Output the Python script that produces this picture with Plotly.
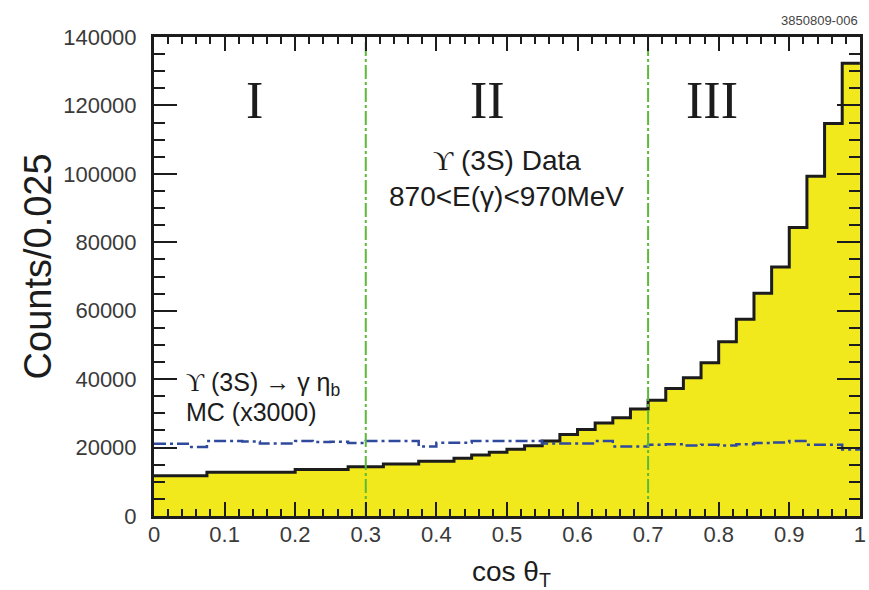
import plotly.graph_objects as go

# cos(theta_T) binning: 40 bins of 0.025
bin_edges = [round(i * 0.025, 3) for i in range(41)]

# Upsilon(3S) data, 870 < E(gamma) < 970 MeV (counts per bin)
data_counts = [
    11800, 11800, 11800, 12800, 12800, 12800, 12800, 12800,
    13600, 13600, 13600, 14400, 14400, 15200, 15200, 16000,
    16000, 16900, 17800, 18600, 19500, 20500, 21900, 23800,
    25300, 27200, 28700, 31300, 33800, 37300, 40400, 44800,
    50900, 57500, 65100, 72800, 84300, 99300, 114700, 132300,
]

# Upsilon(3S) -> gamma eta_b signal MC, scaled x3000
mc_counts = [
    21100, 21100, 20200, 21900, 21900, 21800, 21200, 21200,
    21900, 21600, 21700, 21300, 21900, 21900, 21900, 20300,
    21400, 21400, 21900, 21900, 21900, 21900, 21200, 21200,
    21200, 21900, 20300, 20300, 20800, 21000, 20600, 20800,
    20600, 21000, 21300, 21500, 21900, 20800, 20800, 19400,
]

# Region boundaries in cos(theta_T)
region_cuts = [0.3, 0.7]
region_names = ["I", "II", "III"]
region_centers = [0.142, 0.472, 0.79]

x_ticks = [round(i * 0.1, 1) for i in range(11)]
x_tick_text = ["0", "0.1", "0.2", "0.3", "0.4", "0.5", "0.6", "0.7", "0.8", "0.9", "1"]
y_ticks = list(range(0, 140001, 20000))
y_tick_text = [str(v) for v in y_ticks]

INK = "#1c1c1c"
LABEL = "#3a3a3a"
YELLOW = "#f1e91c"
GREEN = "#5cb93c"
BLUE = "#2f4a9c"

fig = go.Figure()

# data histogram: yellow fill with black step outline
fig.add_trace(go.Scatter(
    x=bin_edges, y=data_counts + [data_counts[-1]],
    mode="lines", line=dict(shape="hv", color=INK, width=3),
    fill="tozeroy", fillcolor=YELLOW, hoverinfo="skip", showlegend=False,
))

# signal MC as dash-dot step line
fig.add_trace(go.Scatter(
    x=bin_edges, y=mc_counts + [mc_counts[-1]],
    mode="lines", line=dict(shape="hv", color=BLUE, width=2.5, dash="12px,4px,3px,4px"),
    hoverinfo="skip", showlegend=False,
))

# region separators
for cut in region_cuts:
    fig.add_trace(go.Scatter(
        x=[cut, cut], y=[0, 140000], mode="lines",
        line=dict(color=GREEN, width=2, dash="14px,3px,3px,3px"),
        hoverinfo="skip", showlegend=False,
    ))

annotations = []
for name, xc in zip(region_names, region_centers):
    annotations.append(dict(
        x=xc, y=121500, xref="x", yref="y", text=name, showarrow=False,
        font=dict(family="Liberation Serif", size=52, color=INK),
    ))

annotations += [
    dict(x=0.5, y=104000, xref="x", yref="y", showarrow=False,
         text="<span style='font-family:Liberation Serif'>ϒ</span> (3S) Data",
         font=dict(family="Liberation Sans", size=28, color=INK)),
    dict(x=0.5, y=93500, xref="x", yref="y", showarrow=False,
         text="870&lt;E(γ)&lt;970MeV",
         font=dict(family="Liberation Sans", size=28, color=INK)),
    dict(x=0.043, y=38500, xref="x", yref="y", showarrow=False, xanchor="left",
         text="<span style='font-family:Liberation Serif'>ϒ</span> (3S) → γ η<sub>b</sub>",
         font=dict(family="Liberation Sans", size=25, color=INK)),
    dict(x=0.043, y=30500, xref="x", yref="y", showarrow=False, xanchor="left",
         text="MC (x3000)",
         font=dict(family="Liberation Sans", size=25, color=INK)),
    dict(x=-0.165, y=0.52, xref="paper", yref="paper", showarrow=False,
         xanchor="center", yanchor="middle",
         text="Counts/0.025", textangle=-90,
         font=dict(family="Liberation Sans", size=38, color=INK)),
    dict(x=0.507, y=-0.12, xref="paper", yref="paper", showarrow=False,
         xanchor="center", yanchor="middle",
         text="cos θ<sub>T</sub>",
         font=dict(family="Liberation Sans", size=28, color=INK)),
    dict(x=1.0, y=1.035, xref="paper", yref="paper", showarrow=False,
         xanchor="right", yanchor="middle",
         text="3850809-006",
         font=dict(family="Liberation Sans", size=13, color="#444444")),
]

fig.update_layout(
    width=869, height=590,
    margin=dict(l=154, r=3, t=37, b=74),
    paper_bgcolor="white", plot_bgcolor="white",
    annotations=annotations,
    xaxis=dict(
        range=[0, 1.0002], tickvals=x_ticks, ticktext=x_tick_text,
        ticks="inside", ticklen=14, tickwidth=2, tickcolor=INK,
        minor=dict(ticks="inside", dtick=0.02, ticklen=7, tickwidth=2, tickcolor=INK),
        showline=True, linewidth=3, linecolor=INK, mirror="ticks",
        showgrid=False, zeroline=False, ticklabelstandoff=-3,
        tickfont=dict(family="Liberation Sans", size=22, color=LABEL),
    ),
    yaxis=dict(
        range=[0, 140000], tickvals=y_ticks, ticktext=y_tick_text,
        ticks="inside", ticklen=23, tickwidth=2, tickcolor=INK,
        minor=dict(ticks="inside", dtick=5000, ticklen=11, tickwidth=2, tickcolor=INK),
        showline=True, linewidth=3, linecolor=INK, mirror="ticks",
        showgrid=False, zeroline=False, ticklabelstandoff=10,
        tickfont=dict(family="Liberation Sans", size=22, color=LABEL),
    ),
)

fig.write_html("out.html")
